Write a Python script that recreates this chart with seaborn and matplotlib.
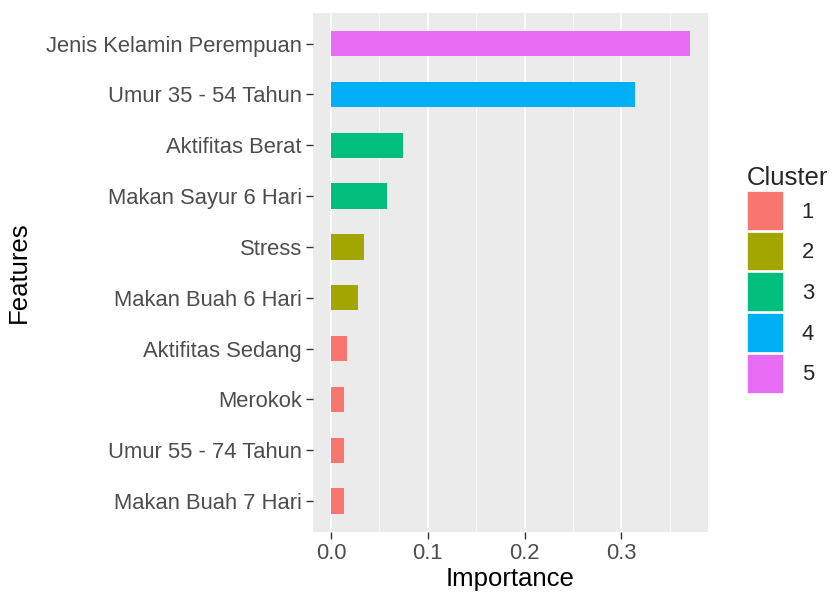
import matplotlib
matplotlib.use("Agg")
import matplotlib.pyplot as plt
import seaborn as sns
import pandas as pd
from matplotlib.ticker import MultipleLocator
from matplotlib.patches import Patch

features = ["Jenis Kelamin Perempuan", "Umur 35 - 54 Tahun", "Aktifitas Berat",
            "Makan Sayur 6 Hari", "Stress", "Makan Buah 6 Hari", "Aktifitas Sedang",
            "Merokok", "Umur 55 - 74 Tahun", "Makan Buah 7 Hari"]
importance = [0.3706, 0.3137, 0.0749, 0.0583, 0.034, 0.028, 0.0162, 0.0138, 0.0138, 0.0138]
cluster = ["5", "4", "3", "3", "2", "2", "1", "1", "1", "1"]
cluster_levels = ["1", "2", "3", "4", "5"]
cluster_colors = ["#F8766D", "#A3A500", "#00BF7D", "#00B0F6", "#E76BF3"]
xticks = [0.0, 0.1, 0.2, 0.3]

df = pd.DataFrame({"Features": features, "Importance": importance, "Cluster": cluster})

sns.set_theme(style="white")
plt.rcParams["font.family"] = ["Liberation Sans", "DejaVu Sans"]

fig = plt.figure(figsize=(8.32, 5.99), dpi=100)
ax = fig.add_axes([313/832, 1-531.7/599, (707.7-313)/832, (531.7-13)/599])
ax.set_facecolor("#EBEBEB")

palette = dict(zip(cluster_levels, cluster_colors))
sns.barplot(data=df, x="Importance", y="Features", hue="Cluster", hue_order=cluster_levels,
            palette=palette, order=features, dodge=False, width=0.5, ax=ax,
            saturation=1, legend=False, linewidth=0, zorder=3)

xmax = max(importance)
pad = 0.05 * xmax
ax.set_xlim(-pad, xmax + pad)
ax.set_ylim(len(features) - 1 + 0.6, -0.6)

ax.xaxis.set_major_locator(MultipleLocator(0.1))
ax.xaxis.set_minor_locator(MultipleLocator(0.05))
ax.set_xticks(xticks)
ax.set_xticklabels([f"{v:.1f}" for v in xticks])
ax.grid(which="major", axis="x", color="white", linewidth=1.1, zorder=0)
ax.grid(which="minor", axis="x", color="white", linewidth=0.5, zorder=0)
ax.grid(False, axis="y")
ax.set_axisbelow(True)
for s in ax.spines.values():
    s.set_visible(False)

ax.tick_params(axis="both", which="major", length=5, width=1.0, color="#333333",
               labelcolor="#4D4D4D", labelsize=15.8, pad=3, bottom=True, left=True)
ax.tick_params(axis="x", which="minor", length=0, bottom=False)

ax.set_xlabel("Importance", fontsize=18.5, color="black", labelpad=2)
ax.set_ylabel("Features", fontsize=18.5, color="black", labelpad=11)

handles = [Patch(facecolor=c, edgecolor="white", linewidth=1.2, label=l)
           for l, c in zip(cluster_levels, cluster_colors)]
leg = fig.legend(handles=handles, title="Cluster", loc="center left",
                 bbox_to_anchor=(747/832, 0.533), frameon=False, fontsize=15.8,
                 title_fontsize=18.5, handlelength=1.7, handleheight=2.4,
                 labelspacing=0.05, handletextpad=0.8, borderpad=0, borderaxespad=0)
leg._legend_box.align = "left"

fig.savefig("out.png", dpi=100)
